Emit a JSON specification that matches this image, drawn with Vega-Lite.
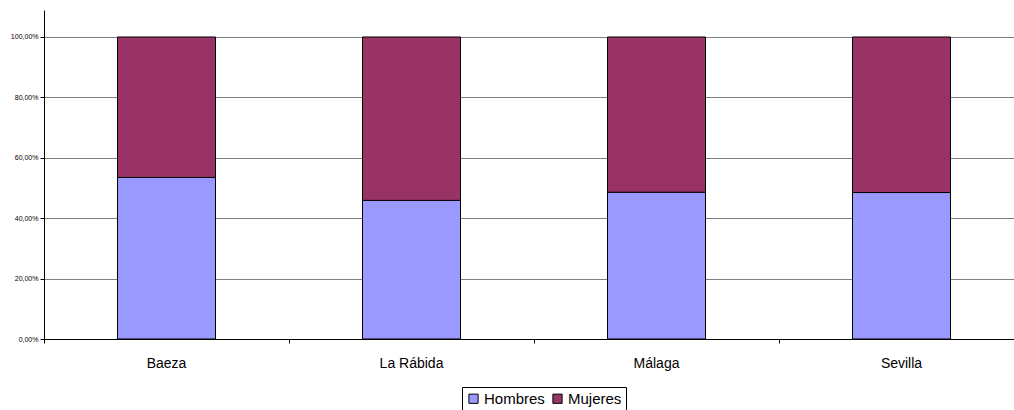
{
  "$schema": "https://vega.github.io/schema/vega-lite/v6.json",
  "autosize": "none",
  "padding": {"left": 44, "top": 10, "right": -10, "bottom": 71},
  "width": 980,
  "height": 329,
  "background": "white",
  "config": {
    "font": "Liberation Sans",
    "view": {"stroke": null}
  },
  "data": {
    "values": [
      {"Sede": "Baeza", "Sexo": "Hombres", "Porcentaje": 0.535},
      {"Sede": "Baeza", "Sexo": "Mujeres", "Porcentaje": 0.465},
      {"Sede": "La Rábida", "Sexo": "Hombres", "Porcentaje": 0.459},
      {"Sede": "La Rábida", "Sexo": "Mujeres", "Porcentaje": 0.541},
      {"Sede": "Málaga", "Sexo": "Hombres", "Porcentaje": 0.486},
      {"Sede": "Málaga", "Sexo": "Mujeres", "Porcentaje": 0.514},
      {"Sede": "Sevilla", "Sexo": "Hombres", "Porcentaje": 0.485},
      {"Sede": "Sevilla", "Sexo": "Mujeres", "Porcentaje": 0.515}
    ]
  },
  "mark": {"type": "bar", "width": {"band": 0.4}, "stroke": "black", "strokeWidth": 1},
  "encoding": {
    "x": {
      "field": "Sede",
      "type": "nominal",
      "sort": null,
      "title": null,
      "scale": {"paddingInner": 0, "paddingOuter": 0},
      "axis": {
        "bandPosition": 0,
        "labelAngle": 0,
        "labelFontSize": 14,
        "labelColor": "black",
        "labelPadding": 13,
        "tickSize": 4,
        "tickColor": "black",
        "domainColor": "black",
        "grid": false
      }
    },
    "y": {
      "field": "Porcentaje",
      "type": "quantitative",
      "stack": "zero",
      "title": null,
      "scale": {"domain": [0, 1.0894], "nice": false},
      "axis": {
        "values": [0, 0.2, 0.4, 0.6, 0.8, 1],
        "labelExpr": "replace(format(datum.value, '.2%'), '.', ',')",
        "labelFontSize": 7,
        "labelColor": "black",
        "labelPadding": 2,
        "tickSize": 4,
        "tickColor": "black",
        "domainColor": "black",
        "gridColor": "#808080",
        "gridOpacity": 1
      }
    },
    "order": {"field": "Sexo", "sort": "ascending"},
    "color": {
      "field": "Sexo",
      "type": "nominal",
      "scale": {"domain": ["Hombres", "Mujeres"], "range": ["#9999FF", "#993366"]},
      "legend": {
        "title": null,
        "orient": "none",
        "direction": "horizontal",
        "legendX": 418,
        "legendY": 377,
        "symbolType": "square",
        "symbolSize": 85,
        "symbolStrokeColor": "black",
        "symbolStrokeWidth": 1,
        "labelFontSize": 15,
        "labelColor": "black",
        "labelOffset": 3,
        "columnPadding": 5,
        "padding": 4,
        "strokeColor": "black"
      }
    }
  }
}
